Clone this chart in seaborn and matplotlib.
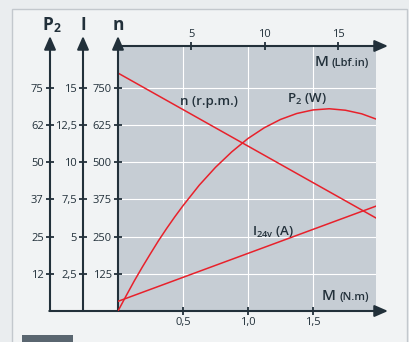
import matplotlib
matplotlib.use("Agg")
import matplotlib.pyplot as plt
from matplotlib.patches import Rectangle
import seaborn as sns

# Values
torque_nm = [0.0, 0.0625, 0.125, 0.1875, 0.25, 0.3125, 0.375, 0.4375, 0.5,
             0.625, 0.75, 0.875, 1.0, 1.125, 1.25, 1.375, 1.5, 1.625,
             1.75, 1.875, 2.0]
power_w = [0.0, 5.1, 10.1, 14.8, 19.3, 23.7, 27.8, 31.7, 35.4,
           42.3, 48.3, 53.5, 58.0, 61.6, 64.4, 66.4, 67.6, 68.0,
           67.5, 66.3, 64.3]
speed_torque = [0.0, 2.0]
speed_rpm = [800, 309]
current_torque = [0.0, 2.0]
current_a = [0.65, 7.1]

n_ticks = [125, 250, 375, 500, 625, 750]
p_ticks = [12.5, 25, 37.5, 50, 62.5, 75]
p_labels = ["12", "25", "37", "50", "62", "75"]
i_ticks = [2.5, 5, 7.5, 10, 12.5, 15]
i_labels = ["2,5", "5", "7,5", "10", "12,5", "15"]
x_ticks = [0.5, 1.0, 1.5]
x_labels = ["0,5", "1,0", "1,5"]
lbf_ticks = [5, 10, 15]

RED = "#e8212b"
DARK = "#22303a"
W, H = 410, 342

plt.rcParams["font.family"] = ["Open Sans", "DejaVu Sans"]
plt.rcParams["mathtext.fontset"] = "custom"
plt.rcParams["mathtext.rm"] = "Open Sans:semibold"
plt.rcParams["mathtext.bf"] = "Open Sans:bold"
plt.rcParams["mathtext.it"] = "Open Sans:italic"

fig = plt.figure(figsize=(W / 100, H / 100), dpi=100, facecolor="#eaedef")
fig.patches.append(Rectangle((12 / W, -0.05), 395 / W, 1.05 - 9 / H,
                             transform=fig.transFigure, fc="#f1f3f4",
                             ec="#c3c8cd", lw=1, zorder=-2))
fig.patches.append(Rectangle((22 / W, 0), 51 / W, 7 / H,
                             transform=fig.transFigure, fc="#5a6670", zorder=-1))

# main axes: speed n
ax = fig.add_axes([118 / W, 31 / H, 258 / W, 265 / H])
ax.set_facecolor("#c6cdd4")
sns.lineplot(x=speed_torque, y=speed_rpm, ax=ax, color=RED, lw=1.1)

# power P2
axp = ax.twinx()
sns.lineplot(x=torque_nm, y=power_w, ax=axp, color=RED, lw=1.1)
axp.set_ylim(0, 89.1)
axp.yaxis.tick_left()
axp.spines["left"].set_position(("axes", -68 / 258))
axp.set_yticks(p_ticks, p_labels)

# current I
axi = ax.twinx()
sns.lineplot(x=current_torque, y=current_a, ax=axi, color=RED, lw=1.1)
axi.set_ylim(0, 17.82)
axi.yaxis.tick_left()
axi.spines["left"].set_position(("axes", -35 / 258))
axi.set_yticks(i_ticks, i_labels)

ax.set_xlim(0, 1.985)
ax.set_ylim(0, 891)
ax.set_yticks(n_ticks)
ax.set_xticks(x_ticks, x_labels)
ax.grid(color="white", lw=0.8)
ax.set_axisbelow(True)

sec = ax.secondary_xaxis("top", functions=(lambda m: m / 0.113, lambda l: l * 0.113))
sec.set_xticks(lbf_ticks)

for a in (ax, axp, axi, sec):
    for s in a.spines.values():
        s.set_visible(False)
    a.tick_params(direction="inout", length=6, width=1.3, color=DARK,
                  labelsize=8, labelcolor=DARK, pad=1.5)
    a.set_xlabel("")
    a.set_ylabel("")


def fx(px):
    return (px - 118) / 258


def fy(py):
    return (311 - py) / 265


def arrow(x0, y0, x1, y1):
    ax.annotate("", xy=(fx(x1), fy(y1)), xytext=(fx(x0), fy(y0)),
                xycoords="axes fraction", textcoords="axes fraction",
                annotation_clip=False,
                arrowprops=dict(arrowstyle="-|>,head_length=0.8,head_width=0.35",
                                color=DARK, lw=1.5, shrinkA=0, shrinkB=0,
                                mutation_scale=10))


arrow(118, 311, 118, 36)
arrow(83, 311, 83, 36)
arrow(50, 311, 50, 36)
arrow(49.3, 311, 388, 311)
arrow(118, 46, 388, 46)


def label(px, py, s, **kw):
    fig.text(px / W, 1 - py / H, s, color=DARK, **kw)


label(52, 30, r"P$_{\mathbf{2}}$", fontsize=12.5, fontweight="bold", ha="center", va="baseline")
label(83, 30, "I", fontsize=12.5, fontweight="bold", ha="center", va="baseline")
label(118, 30, "n", fontsize=12.5, fontweight="bold", ha="center", va="baseline")

label(180, 105, "n (r.p.m.)", fontsize=9.5, fontweight="semibold", va="baseline")
label(287, 103, r"P$_2$ (W)", fontsize=9.5, fontweight="semibold", va="baseline")
label(252, 236, r"I$_{\mathrm{24v}}$ (A)", fontsize=9.5, fontweight="semibold", va="baseline")

label(315, 66, "M", fontsize=11, fontweight="semibold", va="baseline")
label(332, 66, "(Lbf.in)", fontsize=8, fontweight="semibold", va="baseline")
label(322, 300, "M", fontsize=11, fontweight="semibold", va="baseline")
label(340, 300, "(N.m)", fontsize=8, fontweight="semibold", va="baseline")

fig.savefig("out.png", dpi=100, facecolor=fig.get_facecolor())
